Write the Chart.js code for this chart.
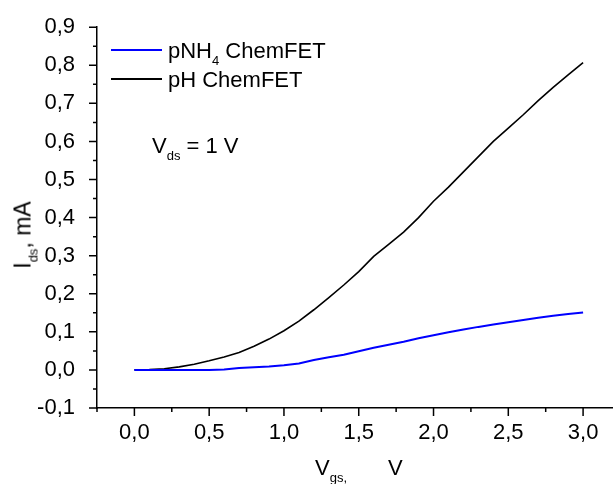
<!DOCTYPE html>
<html>
<head>
<meta charset="utf-8">
<script src="https://cdn.jsdelivr.net/npm/chart.js@4.4.1/dist/chart.umd.min.js"></script>
<style>
html, body { margin: 0; padding: 0; background: #fff; }
#wrap { position: relative; width: 613px; height: 484px; font-family: "Liberation Sans", Arial, sans-serif; color: #000; }
#wrap canvas { position: absolute; left: 0; top: 0; }
.lbl { position: absolute; white-space: nowrap; line-height: 1; font-size: 22px; }
.sub { font-size: 13px; position: relative; top: 7px; }
.key { position: absolute; height: 2px; }
</style>
</head>
<body>
<div id="wrap">
    <canvas id="chart" width="613" height="484"></canvas>

    <div class="key" style="left:111px; top:49px; width:51px; background:#0000ff;"></div>
    <div class="lbl" style="left:168px; top:40px;">pNH<span class="sub">4</span> ChemFET</div>
    <div class="key" style="left:111px; top:78px; width:51px; background:#000;"></div>
    <div class="lbl" style="left:168px; top:69px;">pH ChemFET</div>

    <div class="lbl" style="left:152px; top:135px;">V<span class="sub">ds</span> = 1 V</div>

    <div class="lbl" style="left:315px; top:457px;">V<span class="sub">gs,</span></div>
    <div class="lbl" style="left:388px; top:457px;">V</div>

    <div class="lbl" style="left:23px; top:235px; font-size:23px; transform: translate(-50%, -50%) rotate(-90deg);">I<span class="sub">ds</span>, mA</div>
</div>

<script>
// gate-source voltage, V
const vgs = [0.0, 0.1, 0.2, 0.3, 0.4, 0.5, 0.6, 0.7, 0.8, 0.9, 1.0,
             1.1, 1.2, 1.3, 1.4, 1.5, 1.6, 1.7, 1.8, 1.9, 2.0,
             2.1, 2.2, 2.3, 2.4, 2.5, 2.6, 2.7, 2.8, 2.9, 3.0];

// drain-source current, mA
const idsPNH4 = [0.000, 0.000, 0.000, 0.000, 0.000, 0.000, 0.001, 0.005, 0.007, 0.009, 0.012,
                 0.017, 0.026, 0.033, 0.040, 0.049, 0.058, 0.066, 0.074, 0.083, 0.091,
                 0.099, 0.106, 0.113, 0.119, 0.125, 0.131, 0.137, 0.142, 0.147, 0.151];

const idsPH = [0.000, 0.001, 0.003, 0.008, 0.015, 0.024, 0.034, 0.046, 0.062, 0.081, 0.103,
               0.128, 0.158, 0.190, 0.223, 0.258, 0.298, 0.330, 0.362, 0.400, 0.443,
               0.480, 0.520, 0.560, 0.600, 0.635, 0.670, 0.707, 0.742, 0.775, 0.807];

const xTicks = [0.0, 0.5, 1.0, 1.5, 2.0, 2.5, 3.0];
const xMinorTicks = [-0.25, 0.25, 0.75, 1.25, 1.75, 2.25, 2.75];
const yTicks = [-0.1, 0.0, 0.1, 0.2, 0.3, 0.4, 0.5, 0.6, 0.7, 0.8, 0.9];
const yMinorTicks = [-0.05, 0.05, 0.15, 0.25, 0.35, 0.45, 0.55, 0.65, 0.75, 0.85];

const fmt = v => v.toFixed(1).replace('.', ',');

// Origin-style tick marks: long majors, short minors, pointing outward
const tickMarks = {
    id: 'tickMarks',
    afterDraw(chart) {
        const { ctx, chartArea, scales: { x, y } } = chart;
        ctx.save();
        ctx.strokeStyle = '#000';
        ctx.lineWidth = 1.5;
        ctx.beginPath();
        xTicks.forEach(v => {
            const px = x.getPixelForValue(v);
            ctx.moveTo(px, chartArea.bottom);
            ctx.lineTo(px, chartArea.bottom + 8);
        });
        xMinorTicks.forEach(v => {
            const px = x.getPixelForValue(v);
            ctx.moveTo(px, chartArea.bottom);
            ctx.lineTo(px, chartArea.bottom + 4);
        });
        yTicks.forEach(v => {
            const py = y.getPixelForValue(v);
            ctx.moveTo(chartArea.left, py);
            ctx.lineTo(chartArea.left - 8, py);
        });
        yMinorTicks.forEach(v => {
            const py = y.getPixelForValue(v);
            ctx.moveTo(chartArea.left, py);
            ctx.lineTo(chartArea.left - 4, py);
        });
        ctx.stroke();
        ctx.restore();
    }
};

new Chart(document.getElementById('chart'), {
    type: 'line',
    data: {
        datasets: [
            {
                label: 'pNH4 ChemFET',
                data: vgs.map((v, i) => ({ x: v, y: idsPNH4[i] })),
                borderColor: '#0000ff',
                borderWidth: 2,
                pointRadius: 0,
                tension: 0
            },
            {
                label: 'pH ChemFET',
                data: vgs.map((v, i) => ({ x: v, y: idsPH[i] })),
                borderColor: '#000000',
                borderWidth: 1.6,
                pointRadius: 0,
                tension: 0
            }
        ]
    },
    options: {
        responsive: false,
        animation: false,
        devicePixelRatio: 1,
        layout: { padding: { top: 25, right: 0, left: 0, bottom: 0 } },
        plugins: {
            legend: { display: false },
            tooltip: { enabled: false }
        },
        scales: {
            x: {
                type: 'linear',
                min: -0.25,
                max: 3.2,
                afterBuildTicks: s => { s.ticks = xTicks.map(v => ({ value: v })); },
                afterFit: s => { s.height = 76; },
                grid: { display: false },
                border: { display: true, color: '#000', width: 1.5 },
                ticks: {
                    color: '#000',
                    padding: 4,
                    maxRotation: 0,
                    font: { family: '"Liberation Sans", Arial, sans-serif', size: 22 },
                    callback: v => fmt(v)
                }
            },
            y: {
                type: 'linear',
                min: -0.1,
                max: 0.9,
                afterBuildTicks: s => { s.ticks = yTicks.map(v => ({ value: v })); },
                afterFit: s => { s.width = 97; },
                grid: { display: false },
                border: { display: true, color: '#000', width: 1.5 },
                ticks: {
                    color: '#000',
                    padding: 14,
                    font: { family: '"Liberation Sans", Arial, sans-serif', size: 22 },
                    callback: v => fmt(v)
                }
            }
        }
    },
    plugins: [tickMarks]
});
</script>
</body>
</html>
